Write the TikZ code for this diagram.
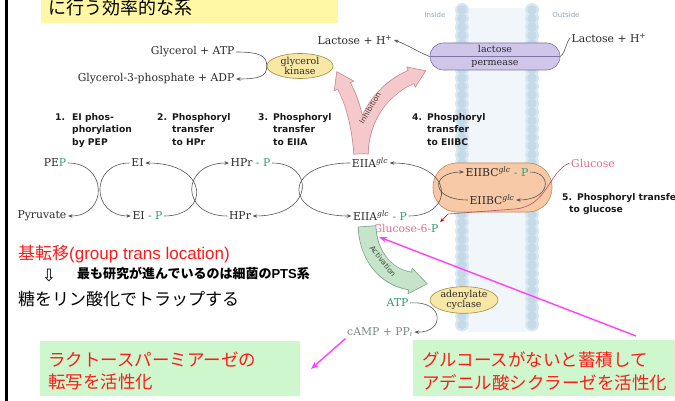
\documentclass[tikz,border=0pt]{standalone}
\usepackage{fontspec}
\setmainfont{DejaVu Serif}
\newfontfamily\jpfont{Noto Sans CJK JP}
\newfontfamily\arialfont{Liberation Sans}
\newfontfamily\dvsans{DejaVu Sans}
\usetikzlibrary{arrows.meta,shapes.geometric}

\definecolor{txt}{HTML}{2A2A2A}
\definecolor{arcgray}{HTML}{555555}
\definecolor{pgreen}{HTML}{2E9E72}
\definecolor{glcpink}{HTML}{E0708A}
\definecolor{glcline}{HTML}{B0505A}
\definecolor{steptxt}{HTML}{1A1A1A}
\definecolor{enzfill}{HTML}{F9E7A6}
\definecolor{enzbd}{HTML}{9C8A4A}
\definecolor{permfill}{HTML}{CFC6EA}
\definecolor{permbd}{HTML}{7E74A6}
\definecolor{orfill}{HTML}{F8C9A6}
\definecolor{orbd}{HTML}{C8865A}
\definecolor{inhfill}{HTML}{F5C8CB}
\definecolor{inhbd}{HTML}{C4868C}
\definecolor{actfill}{HTML}{C6E4C9}
\definecolor{actbd}{HTML}{78A283}
\definecolor{beadhalo}{HTML}{D8E7F0}
\definecolor{membead}{HTML}{C4DAE8}
\definecolor{memlight}{HTML}{F0F6FA}
\definecolor{memtxt}{HTML}{93A7B6}
\definecolor{magline}{HTML}{FF40FF}
\definecolor{boxgreen}{HTML}{CEF7CE}
\definecolor{titleyellow}{HTML}{FFF7A3}
\definecolor{jpred}{HTML}{FF1A1A}
\definecolor{camptxt}{HTML}{7A8A84}

\begin{document}
\begin{tikzpicture}[x=1pt,y=-1pt,
  mol/.style={font=\fontsize{10.8}{12}\selectfont, text=txt, inner sep=1.5pt},
  steplbl/.style={font=\dvsans\bfseries\fontsize{9.2}{12.5}\selectfont, text=steptxt,
    align=left, anchor=north west, inner sep=0pt},
  rxn/.style={draw=arcgray, line width=0.6pt},
  tip/.style={-{Stealth[length=4.5pt,width=3.5pt]}},
  enzyme/.style={ellipse, draw=enzbd, fill=enzfill, line width=0.6pt,
    minimum width=66pt, minimum height=25pt, inner sep=0pt, align=center,
    font=\fontsize{9.5}{9.5}\selectfont, text=txt},
  capsule/.style={rectangle, rounded corners=#1, line width=0.6pt, align=center},
  jptext/.style={anchor=base west, inner sep=0pt, font=\jpfont\fontsize{17.5}{20}\selectfont},
  magarrow/.style={draw=magline, line width=1.4pt, -{Stealth[length=8pt,width=6pt]}},
  greenbox/.style={rectangle, fill=boxgreen, anchor=north west, inner sep=0pt},
  bandlbl/.style={font=\dvsans\fontsize{7.4}{8}\selectfont, inner sep=0pt}
]
\useasboundingbox (0,0) rectangle (675,401);
\clip (0,0) rectangle (675,401);
\fill[white] (0,0) rectangle (675,401);

% left rule
\fill[black] (5,0) rectangle (8,401);

% title strip
\node[rectangle, fill=titleyellow, anchor=north west, minimum width=297pt,
      minimum height=22.5pt, inner sep=0pt] (titlebox) at (41,0) {};
\node[anchor=base west, inner sep=0pt, font=\jpfont\fontsize{18}{20}\selectfont]
      (title) at (48,15) {に行う効率的な系};

% membrane: two rows of lipid heads with a pale core between them
\fill[memlight] (468,8) rectangle (526,332);
\foreach \yy in {10,18.5,...,330} {
  \fill[beadhalo] (462,\yy) circle[radius=7pt];
  \fill[beadhalo] (532,\yy) circle[radius=7pt];
}
\foreach \yy in {10,18.5,...,330} {
  \fill[membead] (462,\yy) circle[radius=4.8pt];
  \fill[membead] (532,\yy) circle[radius=4.8pt];
}
\node[font=\dvsans\fontsize{7}{8}\selectfont, text=memtxt] (inside) at (435,15) {Inside};
\node[font=\dvsans\fontsize{7}{8}\selectfont, text=memtxt] (outside) at (566,15) {Outside};

% glycerol kinase
\node[mol, anchor=east] (gatp) at (236,52) {Glycerol + ATP};
\node[mol, anchor=east] (g3p) at (236,79) {Glycerol-3-phosphate + ADP};
\node[enzyme] (kin) at (300,66) {glycerol\\kinase};
\draw[rxn, tip] (gatp.east) .. controls (260,52) and (267,56) .. (kin.west)
                 .. controls (267,76) and (260,79) .. (g3p.east);

% lactose permease
\node[mol] (llac) at (355,40) {Lactose + H\textsuperscript{+}};
\node[mol] (rlac) at (609,38) {Lactose + H\textsuperscript{+}};
\node[capsule=13.5pt, draw=permbd, fill=permfill, minimum width=130pt, minimum height=27pt,
      inner sep=0pt, font=\fontsize{9.5}{12.5}\selectfont, text=txt] (perm) at (495,56.5) {lactose\\permease};
\draw[draw=permbd, line width=0.5pt] (perm.west) -- (perm.east);
\draw[rxn, tip] (perm.west) .. controls (418,52) and (408,45) .. (llac.east);
\draw[rxn] (rlac.west) .. controls (566,42) and (566,52) .. (perm.east);

% inhibition arrow (stem splitting to kinase and permease)
\draw[line width=15pt, draw=inhbd] (361,154) .. controls (359,125) and (352,100) .. (344,86);
\draw[line width=15pt, draw=inhbd] (361,154) .. controls (362,115) and (385,88) .. (411,77);
\filldraw[fill=inhfill, draw=inhbd, line width=0.6pt, line join=round]
  (353.8,81.1) -- (336.8,71.7) -- (334.2,90.9) -- cycle;
\filldraw[fill=inhfill, draw=inhbd, line width=0.6pt, line join=round]
  (415.3,87.1) -- (425.7,70.8) -- (406.7,66.9) -- cycle;
\draw[line width=13.6pt, draw=inhfill, shorten <=0.7pt, shorten >=-1pt]
  (361,154) .. controls (359,125) and (352,100) .. (344,86);
\draw[line width=13.6pt, draw=inhfill, shorten <=0.7pt, shorten >=-1pt]
  (361,154) .. controls (362,115) and (385,88) .. (411,77);
\node[bandlbl, text=txt!80!inhbd, rotate=59] (inhlbl) at (370,108) {Inhibition};

% step labels
\node[steplbl] (s1) at (55,113) {\makebox[17pt][l]{1.}EI phos-\\\hspace*{17pt}phorylation\\\hspace*{17pt}by PEP};
\node[steplbl] (s2) at (157,113) {\makebox[15pt][l]{2.}Phosphoryl\\\hspace*{15pt}transfer\\\hspace*{15pt}to HPr};
\node[steplbl] (s3) at (258,113) {\makebox[15pt][l]{3.}Phosphoryl\\\hspace*{15pt}transfer\\\hspace*{15pt}to EIIA};
\node[steplbl] (s4) at (412,113) {\makebox[15pt][l]{4.}Phosphoryl\\\hspace*{15pt}transfer\\\hspace*{15pt}to EIIBC};
\node[steplbl] (s5) at (562,193) {\makebox[15pt][l]{5.}Phosphoryl transfer\\\hspace*{7pt}to glucose};

% EIIBC complex
\node[capsule=24pt, draw=orbd, fill=orfill, minimum width=119pt, minimum height=49pt] (cplx) at (492.5,187.5) {};

% phosphoryl relay species
\node[mol] (pep) at (55,163) {PE{\color{pgreen}P}};
\node[mol] (pyr) at (42,216) {Pyruvate};
\node[mol] (ei) at (137.5,163) {EI};
\node[mol] (eip) at (147.5,216) {EI {\color{pgreen}- P}};
\node[mol] (hprp) at (250.5,163) {HPr {\color{pgreen}- P}};
\node[mol] (hpr) at (240,216) {HPr};
\node[mol] (eiia) at (370,163) {EIIA\textsuperscript{\itshape glc}};
\node[mol] (eiiap) at (380,216) {EIIA\textsuperscript{\itshape glc} {\color{pgreen}- P}};
\node[mol] (eiibcp) at (497,172) {EIIBC\textsuperscript{\itshape glc} {\color{pgreen}- P}};
\node[mol] (eiibc) at (492,200) {EIIBC\textsuperscript{\itshape glc}};
\node[mol, text=glcpink] (glc) at (593,163) {Glucose};
\node[mol, text=glcpink] (g6p) at (406,228) {Glucose-6-{\color{pgreen}P}};

% relay arcs
\draw[rxn, tip] (pep.east) .. controls +(40,0) and +(40,0) .. (pyr.east);
\draw[rxn, tip] (ei.west) .. controls +(-40,0) and +(-40,0) .. (eip.west);
\draw[rxn, tip] (eip.east) .. controls (210,216) and (210,163) .. (ei.east);
\draw[rxn, tip] (hpr.west) .. controls (180,216) and (180,163) .. (hprp.west);
\draw[rxn, tip] (hprp.east) .. controls (315,163) and (315,216) .. (hpr.east);
\draw[rxn, tip] (eiia.west) .. controls (282,163) and (282,216) .. (eiiap.west);
\draw[rxn, tip] (eiiap.east) .. controls (455,216) and (455,163) .. (eiia.east);
\draw[rxn, tip] (eiibc.west) .. controls (430,200) and (430,172) .. (eiibcp.west);
\draw[rxn, tip] (eiibcp.east) .. controls (552,172) and (552,200) .. (eiibc.east);

% glucose path through the complex
\coordinate (gexit) at (448,214);
\draw[draw=glcline, line width=0.6pt] (glc.west) .. controls (548,172) and (548,206) .. (515,209) -- (gexit);
\draw[draw=red!80!black, line width=0.6pt, tip] (gexit) -- (g6p.north east);

% activation arrow
\draw[line width=18.5pt, draw=actbd] (367,226) .. controls (368,255) and (385,277) .. (410,281);
\filldraw[fill=actfill, draw=actbd, line width=0.6pt, line join=round]
  (407.9,293.8) -- (427.3,283.8) -- (412.1,268.2) -- cycle;
\draw[line width=17pt, draw=actfill, shorten <=0.7pt, shorten >=-1pt]
  (367,226) .. controls (368,255) and (385,277) .. (410,281);
\node[bandlbl, text=txt!80!actbd, rotate=-52] (actlbl) at (383,261) {Activation};

% adenylate cyclase
\node[enzyme, minimum width=68pt, minimum height=26pt] (acyc) at (464,300) {adenylate\\cyclase};
\node[mol, text=pgreen] (atp) at (397.5,303) {ATP};
\node[mol, text=camptxt] (camp) at (380,332) {cAMP + PP\textsubscript{\itshape i}};
\draw[rxn, tip] (atp.east) .. controls (445,300) and (445,333) .. (camp.east);

% left-hand notes
\node[anchor=base west, inner sep=0pt, font=\fontsize{17}{20}\selectfont, text=jpred] (gtl) at (18,259.5)
  {{\jpfont 基転移}{\arialfont (group trans location)}};
\node[font=\dvsans\fontsize{17}{18}\selectfont, inner sep=0pt] (down) at (49,276) {⇩};
\node[anchor=base west, inner sep=0pt, font=\jpfont\bfseries\fontsize{13}{14}\selectfont] (pts) at (77,278.5)
  {最も研究が進んでいるのは細菌の{\arialfont\bfseries PTS}系};
\node[jptext, font=\jpfont\fontsize{17}{20}\selectfont] (trap) at (18,305) {糖をリン酸化でトラップする};

% explanation boxes
\node[greenbox, minimum width=260pt, minimum height=55pt] (lbox) at (40,341) {};
\node[greenbox, minimum width=262pt, minimum height=56pt] (rbox) at (413,340) {};
\node[jptext, text=jpred] (l1) at (48,366) {ラクトースパーミアーゼの};
\node[jptext, text=jpred] (l2) at (48,388.5) {転写を活性化};
\node[jptext, text=jpred] (r1) at (422,366) {グルコースがないと蓄積して};
\node[jptext, text=jpred] (r2) at (422,389) {アデニル酸シクラーゼを活性化};

% pointers
\coordinate (m1a) at (636,336);
\coordinate (m1b) at (379,237);
\draw[magarrow] (m1a) -- (m1b);
\coordinate (m2b) at (311,369);
\draw[magarrow] (camp.south west) -- (m2b);

\end{tikzpicture}
\end{document}
